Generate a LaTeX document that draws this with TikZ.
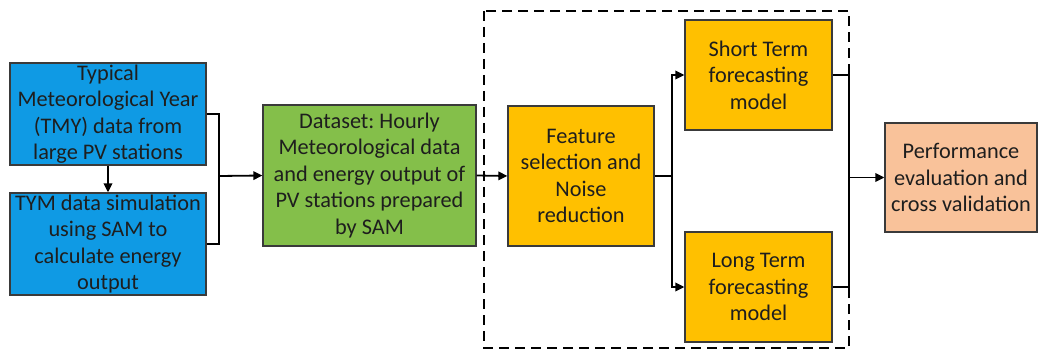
\documentclass[tikz,border=0pt]{standalone}
\usepackage{fontspec}
\setmainfont{Carlito}
\usetikzlibrary{arrows.meta}
\frenchspacing
\definecolor{boxblue}{HTML}{0F9AE4}
\definecolor{boxgreen}{HTML}{84BF4A}
\definecolor{boxgold}{HTML}{FFC000}
\definecolor{boxpeach}{HTML}{F9C29A}
\definecolor{edgegray}{HTML}{3A3A3A}
\definecolor{inkdark}{HTML}{1E1E1E}
\tikzset{
  proc/.style={draw=edgegray, line width=1.3pt, align=center, inner sep=0pt,
    text=inkdark, font=\fontsize{22.3}{26.5}\selectfont},
  link/.style={draw=black, line width=1.8pt},
  arr/.style={link, -{Triangle[length=9pt, width=8.5pt]}},
}
\begin{document}
\begin{tikzpicture}[x=1pt, y=-1pt]
\useasboundingbox (0,0) rectangle (1038,350);
\fill[white] (0,0) rectangle (1038,350);

% dashed frame around the forecasting stage
\draw[black, line width=1.6pt, dash pattern=on 10pt off 6pt] (484,11) rectangle (849,348);

% process boxes
\node[proc, fill=boxblue, minimum width=196pt, minimum height=102pt] (tmy) at (108,114)
  {Typical\\Meteorological Year\\(TMY) data from\\large PV stations};
\node[proc, fill=boxblue, minimum width=196pt, minimum height=102pt] (sim) at (108,244)
  {TYM data simulation\\using SAM to\\calculate energy\\output};
\node[proc, fill=boxgreen, minimum width=213pt, minimum height=141pt] (data) at (369.5,175.5)
  {Dataset: Hourly\\Meteorological data\\and energy output of\\PV stations prepared\\by SAM};
\node[proc, fill=boxgold, minimum width=146pt, minimum height=140pt] (feat) at (581,176)
  {Feature\\selection and\\Noise\\reduction};
\node[proc, fill=boxgold, minimum width=147pt, minimum height=110pt] (short) at (758.5,75)
  {Short Term\\forecasting\\model};
\node[proc, fill=boxgold, minimum width=147pt, minimum height=110pt] (long) at (758.5,287)
  {Long Term\\forecasting\\model};
\node[proc, fill=boxpeach, minimum width=152pt, minimum height=109pt] (perf) at (961,177.5)
  {Performance\\evaluation and\\cross validation};

% junction points
\coordinate (j1) at (219,176);
\coordinate (j2) at (672,176);
\coordinate (j3) at (849,177.5);

% connectors
\draw[arr] (tmy.south) -- (sim.north);
\draw[link] (tmy.east) -| (j1);
\draw[link] (sim.east) -| (j1);
\draw[arr] (j1) -- (data.west);
\draw[arr] (data.east) -- (feat.west);
\draw[link] (feat.east) -- (j2);
\draw[arr] (j2) |- (short.west);
\draw[arr] (j2) |- (long.west);
\draw[link] (short.east) -| (j3);
\draw[link] (long.east) -| (j3);
\draw[arr] (j3) -- (perf.west);
\end{tikzpicture}
\end{document}
